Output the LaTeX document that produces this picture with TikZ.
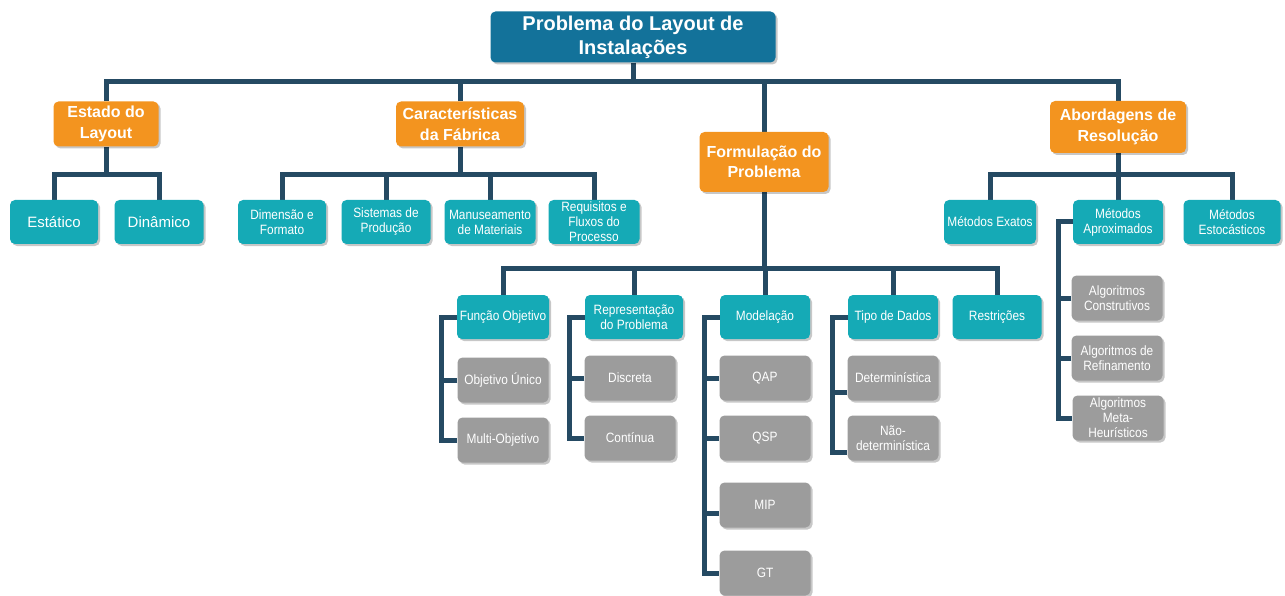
\documentclass[tikz,border=0pt]{standalone}
\usepackage{fontspec}
\setmainfont{Liberation Sans}
\newfontfamily\narrowsans[FakeStretch=0.88]{Liberation Sans}
\usetikzlibrary{shadows,backgrounds}
\definecolor{titleblue}{HTML}{13729A}
\definecolor{orangebox}{HTML}{F3941F}
\definecolor{tealbox}{HTML}{15AAB6}
\definecolor{graybox}{HTML}{9C9C9C}
\definecolor{linec}{HTML}{254A63}
\begin{document}
\begin{tikzpicture}[x=1pt,y=-1pt,
  box/.style={rounded corners=5pt, text=white, align=center, inner sep=2pt,
    drop shadow={shadow xshift=2pt,shadow yshift=-2pt,fill=black,opacity=0.22}},
  titlebox/.style={box, fill=titleblue, minimum width=285pt, minimum height=51pt,
    font=\bfseries\fontsize{20}{24}\selectfont},
  headbox/.style={box, fill=orangebox, font=\bfseries\fontsize{16}{20.5}\selectfont},
  tealnode/.style={box, fill=tealbox, minimum height=44pt, font=\narrowsans\fontsize{13.5}{15}\selectfont},
  graynode/.style={box, fill=graybox, minimum width=91pt, minimum height=45pt, font=\narrowsans\fontsize{13.5}{15}\selectfont},
  conn/.style={draw=linec, line width=5pt, line join=miter}
]
\useasboundingbox (0,0) rectangle (1285,596);

% root
\node[titlebox] (root) at (633,37) {Problema do Layout de\\Instalações};

% first level
\node[headbox, minimum width=105pt, minimum height=45pt] (estado) at (106,124) {Estado do\\Layout};
\node[headbox, minimum width=128pt, minimum height=45pt] (caract) at (460,124) {Características\\da Fábrica};
\node[headbox, minimum width=129pt, minimum height=60pt] (form) at (764,162) {Formulação do\\Problema};
\node[headbox, minimum width=136pt, minimum height=52pt] (abord) at (1118,127) {Abordagens de\\Resolução};

% layout state
\node[tealnode, minimum width=88pt, font=\fontsize{15}{18}\selectfont] (estatico) at (54,222) {Estático};
\node[tealnode, minimum width=89pt, font=\fontsize{15}{18}\selectfont] (dinamico) at (159,222) {Dinâmico};

% plant characteristics
\node[tealnode, minimum width=88pt] (dim) at (282,222) {Dimensão e\\Formato};
\node[tealnode, minimum width=89pt] (sis) at (386,222) {Sistemas de\\Produção};
\node[tealnode, minimum width=91pt] (man) at (490,222) {Manuseamento\\de Materiais};
\node[tealnode, minimum width=91pt] (req) at (594,222) {Requisitos e\\Fluxos do\\Processo};

% solution approaches
\node[tealnode, minimum width=92pt] (exatos) at (990,222) {Métodos Exatos};
\node[tealnode, minimum width=90pt] (aprox) at (1118,222) {Métodos\\Aproximados};
\node[tealnode, minimum width=97pt] (estoc) at (1232,222) {Métodos\\Estocásticos};
\node[graynode] (constr) at (1117,298) {Algoritmos\\Construtivos};
\node[graynode] (refin) at (1117,358) {Algoritmos de\\Refinamento};
\node[graynode] (meta) at (1118,418) {Algoritmos\\Meta-\\Heurísticos};

% problem formulation
\node[tealnode, minimum width=92pt] (fobj) at (503,317) {Função Objetivo};
\node[tealnode, minimum width=98pt] (repr) at (634,317) {Representação\\do Problema};
\node[tealnode, minimum width=90pt] (model) at (765,317) {Modelação};
\node[tealnode, minimum width=90pt] (tipo) at (893,317) {Tipo de Dados};
\node[tealnode, minimum width=89pt] (restr) at (997,317) {Restrições};

\node[graynode] (unico) at (503,380) {Objetivo Único};
\node[graynode] (multi) at (503,440) {Multi-Objetivo};
\node[graynode] (discr) at (630,378) {Discreta};
\node[graynode] (cont) at (630,438) {Contínua};
\node[graynode] (qap) at (765,378) {QAP};
\node[graynode] (qsp) at (765,438) {QSP};
\node[graynode] (mip) at (765,505) {MIP};
\node[graynode] (gt) at (765,573) {GT};
\node[graynode] (det) at (893,378) {Determinística};
\node[graynode] (ndet) at (893,438) {Não-\\determinística};

% connector junctions and spines
\coordinate (b1) at (633,82);
\coordinate (b2) at (106,175);
\coordinate (b3) at (460,175);
\coordinate (b4) at (1118,175);
\coordinate (b5) at (764,268);
\coordinate (s1) at (441,0);
\coordinate (s2) at (569,0);
\coordinate (s3) at (704,0);
\coordinate (s4) at (832,0);
\coordinate (s5) at (1058,0);
\coordinate (mipw) at ([yshift=-8pt]mip.west);
\coordinate (detw) at ([yshift=-14pt]det.west);
\coordinate (ndetw) at ([yshift=-14pt]ndet.west);

\begin{scope}[on background layer]
  \draw[conn] (root.south) -- (b1);
  \draw[conn] (estado.north) |- (b1) -| (abord.north);
  \draw[conn] (caract.north) -- (caract.north |- b1);
  \draw[conn] (form.north) -- (form.north |- b1);

  \draw[conn] (estado.south) -- (b2);
  \draw[conn] (estatico.north) |- (b2) -| (dinamico.north);

  \draw[conn] (caract.south) -- (b3);
  \draw[conn] (dim.north) |- (b3) -| (req.north);
  \draw[conn] (sis.north) -- (sis.north |- b3);
  \draw[conn] (man.north) -- (man.north |- b3);

  \draw[conn] (abord.south) -- (b4);
  \draw[conn] (exatos.north) |- (b4) -| (estoc.north);
  \draw[conn] (aprox.north) -- (aprox.north |- b4);

  \draw[conn] (form.south) -- (b5);
  \draw[conn] (fobj.north) |- (b5) -| (restr.north);
  \draw[conn] (repr.north) -- (repr.north |- b5);
  \draw[conn] (model.north) -- (model.north |- b5);
  \draw[conn] (tipo.north) -- (tipo.north |- b5);

  \draw[conn] (fobj.west) -| (s1 |- multi.west) -- (multi.west);
  \draw[conn] (unico.west) -- (unico.west -| s1);

  \draw[conn] (repr.west) -| (s2 |- cont.west) -- (cont.west);
  \draw[conn] (discr.west) -- (discr.west -| s2);

  \draw[conn] (model.west) -| (s3 |- gt.west) -- (gt.west);
  \draw[conn] (qap.west) -- (qap.west -| s3);
  \draw[conn] (qsp.west) -- (qsp.west -| s3);
  \draw[conn] (mipw) -- (mipw -| s3);

  \draw[conn] (tipo.west) -| (s4 |- ndetw) -- (ndetw);
  \draw[conn] (detw) -- (detw -| s4);

  \draw[conn] (aprox.west) -| (s5 |- meta.west) -- (meta.west);
  \draw[conn] (constr.west) -- (constr.west -| s5);
  \draw[conn] (refin.west) -- (refin.west -| s5);
\end{scope}
\end{tikzpicture}
\end{document}
